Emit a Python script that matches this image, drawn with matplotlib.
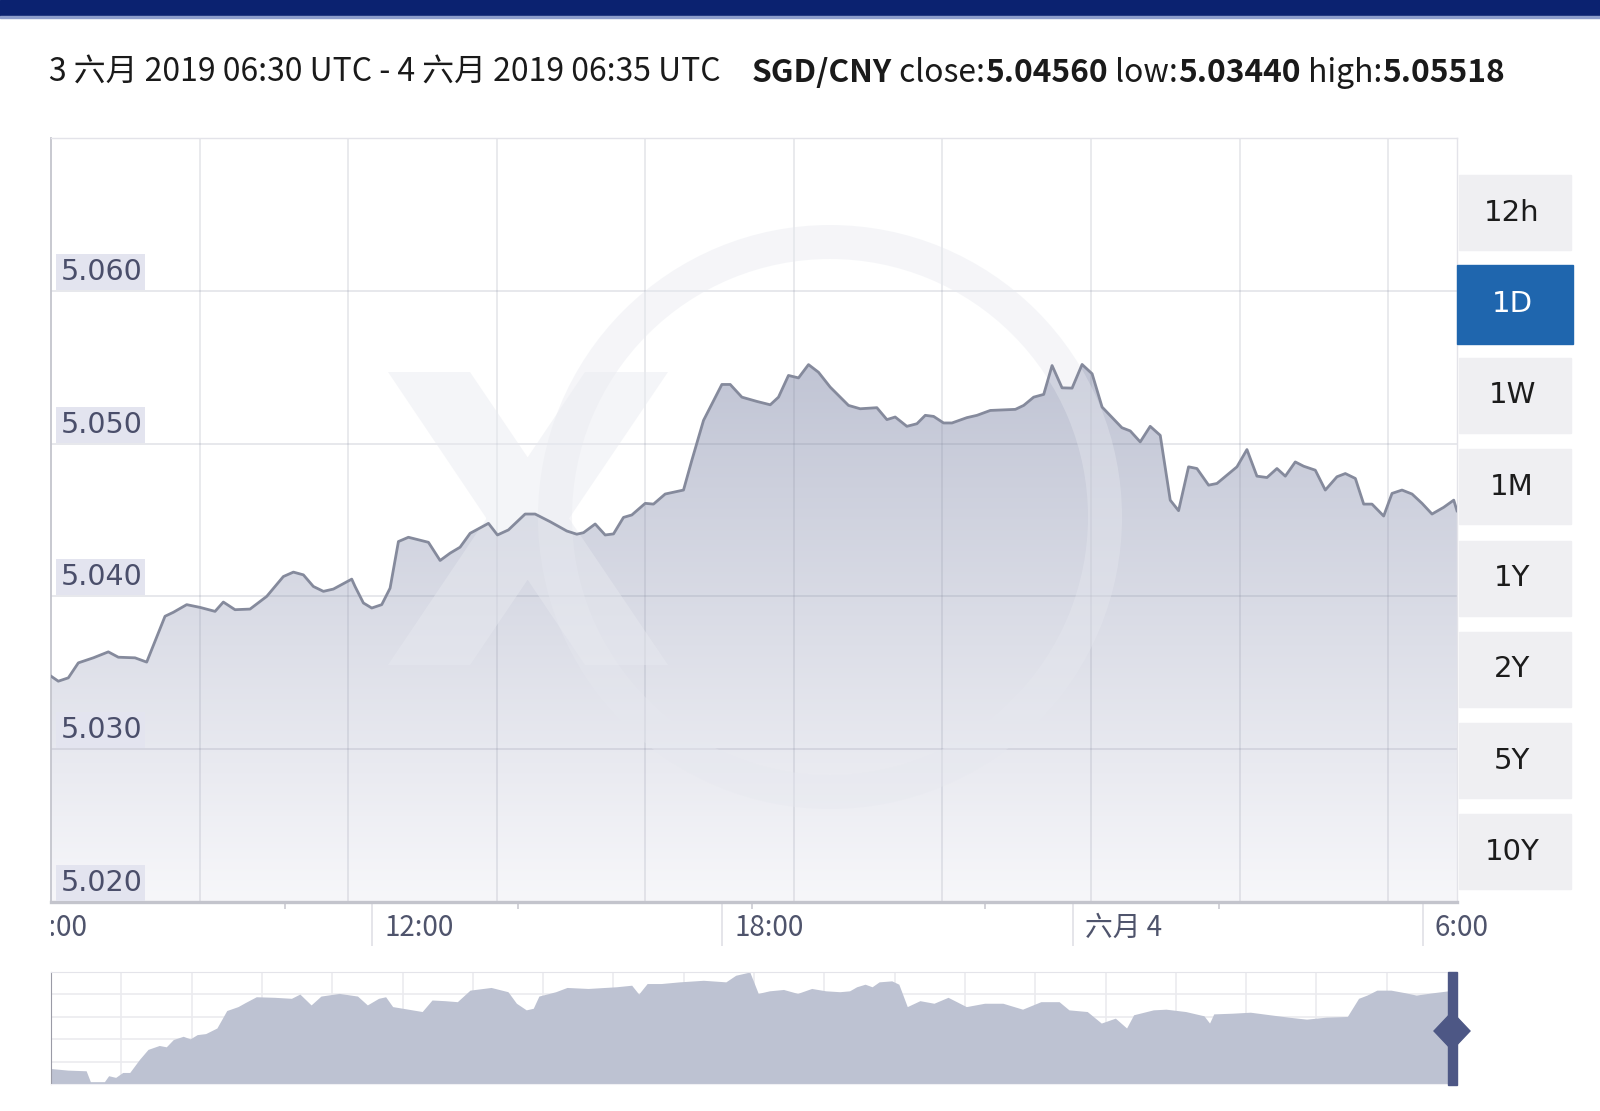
import numpy as np
import matplotlib
matplotlib.use('Agg')
import matplotlib.pyplot as plt
from matplotlib import transforms, font_manager
from matplotlib.patches import Rectangle, Polygon, Wedge, PathPatch
from matplotlib.path import Path
from matplotlib.transforms import IdentityTransform

# ---- data (SGD/CNY, 3 June 2019 06:30 UTC -> 4 June 06:35 UTC) ----
# hours since 06:30 UTC on 3 June
hours = [0.000, 0.125, 0.297, 0.468, 0.725, 0.982, 1.153, 1.439, 1.639, 1.953,
         2.096, 2.324, 2.553, 2.810, 2.952, 3.152, 3.409, 3.695, 3.980, 4.152,
         4.323, 4.494, 4.666, 4.837, 5.151, 5.208, 5.351, 5.494, 5.665, 5.808,
         5.951, 6.122, 6.465, 6.665, 6.836, 7.007, 7.179, 7.493, 7.647, 7.835,
         8.121, 8.292, 8.549, 8.835, 9.006, 9.121, 9.321, 9.492, 9.635, 9.806,
         9.949, 10.178, 10.320, 10.520, 10.834, 10.977, 11.177, 11.491, 11.634, 11.834,
         12.091, 12.320, 12.461, 12.632, 12.804, 12.975, 13.146, 13.346, 13.660, 13.860,
         14.146, 14.318, 14.460, 14.660, 14.832, 14.975, 15.118, 15.289, 15.432, 15.689,
         15.861, 16.089, 16.518, 16.661, 16.832, 17.004, 17.147, 17.318, 17.490, 17.661,
         17.833, 18.004, 18.343, 18.486, 18.657, 18.828, 19.000, 19.171, 19.314, 19.485,
         19.628, 19.828, 19.971, 20.314, 20.485, 20.656, 20.828, 20.999, 21.142, 21.313,
         21.456, 21.656, 21.827, 22.027, 22.170, 22.342, 22.485, 22.627, 22.827, 22.970,
         23.141, 23.313, 23.484, 23.655, 23.855, 24.027, 24.083]
rates = [5.03478, 5.03445, 5.03467, 5.03565, 5.03598, 5.03637, 5.03602, 5.03598, 5.03570, 5.03870,
         5.03896, 5.03946, 5.03928, 5.03902, 5.03963, 5.03913, 5.03917, 5.04000, 5.04130, 5.04159,
         5.04141, 5.04065, 5.04033, 5.04048, 5.04113, 5.04065, 5.03957, 5.03924, 5.03946, 5.04054,
         5.04359, 5.04387, 5.04354, 5.04235, 5.04283, 5.04322, 5.04413, 5.04478, 5.04402, 5.04435,
         5.04539, 5.04539, 5.04489, 5.04428, 5.04407, 5.04417, 5.04474, 5.04402, 5.04409, 5.04517,
         5.04533, 5.04609, 5.04604, 5.04670, 5.04696, 5.04891, 5.05152, 5.05387, 5.05387, 5.05304,
         5.05276, 5.05254, 5.05304, 5.05446, 5.05430, 5.05517, 5.05467, 5.05370, 5.05250, 5.05228,
         5.05235, 5.05157, 5.05174, 5.05113, 5.05130, 5.05185, 5.05178, 5.05135, 5.05135, 5.05170,
         5.05185, 5.05217, 5.05224, 5.05250, 5.05304, 5.05322, 5.05511, 5.05365, 5.05363, 5.05518,
         5.05457, 5.05239, 5.05104, 5.05083, 5.05011, 5.05113, 5.05054, 5.04630, 5.04561, 5.04848,
         5.04837, 5.04728, 5.04739, 5.04848, 5.04961, 5.04787, 5.04778, 5.04837, 5.04787, 5.04880,
         5.04852, 5.04826, 5.04696, 5.04783, 5.04804, 5.04772, 5.04604, 5.04604, 5.04526, 5.04674,
         5.04696, 5.04670, 5.04609, 5.04539, 5.04583, 5.04630, 5.04560]

# navigator (long history), position along range 0..1 and level 0..1 of navigator height
nav_t = [0.000, 0.012, 0.025, 0.028, 0.038, 0.041, 0.046, 0.051, 0.056, 0.063,
         0.069, 0.077, 0.082, 0.087, 0.094, 0.099, 0.104, 0.110, 0.118, 0.125,
         0.133, 0.138, 0.146, 0.159, 0.171, 0.177, 0.185, 0.192, 0.205, 0.218,
         0.225, 0.233, 0.238, 0.243, 0.254, 0.264, 0.271, 0.280, 0.289, 0.298,
         0.313, 0.325, 0.331, 0.338, 0.343, 0.347, 0.359, 0.367, 0.382, 0.402,
         0.413, 0.418, 0.424, 0.434, 0.447, 0.464, 0.480, 0.487, 0.497, 0.503,
         0.511, 0.521, 0.531, 0.541, 0.551, 0.561, 0.568, 0.573, 0.579, 0.584,
         0.589, 0.598, 0.603, 0.609, 0.618, 0.628, 0.638, 0.651, 0.664, 0.677,
         0.691, 0.704, 0.717, 0.724, 0.737, 0.747, 0.757, 0.765, 0.770, 0.784,
         0.793, 0.807, 0.820, 0.824, 0.827, 0.840, 0.853, 0.867, 0.880, 0.893,
         0.907, 0.922, 0.930, 0.936, 0.943, 0.953, 0.963, 0.971, 0.983, 0.994, 1.000]
nav_level = [0.138, 0.124, 0.118, 0.021, 0.021, 0.074, 0.059, 0.103, 0.103, 0.221,
             0.309, 0.344, 0.332, 0.397, 0.426, 0.403, 0.441, 0.450, 0.500, 0.656,
             0.691, 0.726, 0.779, 0.774, 0.765, 0.803, 0.706, 0.785, 0.809, 0.785,
             0.706, 0.765, 0.779, 0.691, 0.668, 0.647, 0.750, 0.744, 0.735, 0.838,
             0.862, 0.824, 0.721, 0.662, 0.676, 0.785, 0.824, 0.862, 0.853, 0.868,
             0.882, 0.803, 0.897, 0.897, 0.912, 0.926, 0.912, 0.971, 1.000, 0.809,
             0.832, 0.844, 0.809, 0.853, 0.832, 0.824, 0.832, 0.868, 0.891, 0.868,
             0.912, 0.921, 0.891, 0.691, 0.744, 0.721, 0.774, 0.691, 0.721, 0.721,
             0.668, 0.735, 0.735, 0.662, 0.647, 0.544, 0.588, 0.500, 0.618, 0.662,
             0.668, 0.647, 0.609, 0.544, 0.626, 0.632, 0.641, 0.618, 0.597, 0.579,
             0.597, 0.603, 0.765, 0.794, 0.838, 0.838, 0.815, 0.794, 0.815, 0.832, 0.832]

ytick_vals = [5.020, 5.030, 5.040, 5.050, 5.060]
ytick_labels = ['5.020', '5.030', '5.040', '5.050', '5.060']
xtick_hours = [-0.5, 5.5, 11.5, 17.5, 23.5]
xtick_labels = ['6:00', '12:00', '18:00', '六月 4', '6:00']
buttons = ['12h', '1D', '1W', '1M', '1Y', '2Y', '5Y', '10Y']
active = '1D'

header_left = '3 六月 2019 06:30 UTC - 4 六月 2019 06:35 UTC'
header_right = [('SGD/CNY', 'bold'), (' close:', 'normal'), ('5.04560', 'bold'),
                (' low:', 'normal'), ('5.03440', 'bold'), (' high:', 'normal'),
                ('5.05518', 'bold')]

W, H = 1600, 1111
fig = plt.figure(figsize=(W / 100, H / 100), dpi=100, facecolor='white')
ID = IdentityTransform()


def fx(px):
    return px / W


def fy(py):
    return 1 - py / H


CJK = ['Noto Sans CJK SC', 'DejaVu Sans']
names = {f.name for f in font_manager.fontManager.ttflist}
NARROW = 'Liberation Sans Narrow' in names
TICKFONT = ['Liberation Sans Narrow', 'Noto Sans CJK SC'] if NARROW else CJK

# ---- top bar ----
fig.add_artist(Rectangle((0, H - 16), W, 16, transform=ID, color='#0b2270', zorder=5))
fig.add_artist(Rectangle((0, H - 18), W, 2, transform=ID, color='#8d9dcb', zorder=5))

# ---- main chart ----
x0, x1 = 0, 24.083
ax = fig.add_axes([fx(51), fy(902), fx(1457) - fx(51), fy(138) - fy(902)])
ax.set_facecolor('white')

poly = ax.fill_between(hours, rates, 5.020, color='none', lw=0)
grad = np.linspace(0, 1, 256)[:, None, None]
top_c = np.array([192, 196, 212]) / 255
bot_c = np.array([247, 247, 250]) / 255
img = top_c + (bot_c - top_c) * grad
im = ax.imshow(img, extent=[x0, x1, 5.020, 5.0555], origin='upper',
               aspect='auto', zorder=1, interpolation='bilinear')
im.set_clip_path(poly.get_paths()[0], transform=ax.transData)

ax.set_xlim(x0, x1)
ax.set_ylim(5.020, 5.070)

# grid
for v in ytick_vals[1:]:
    ax.axhline(v, color=(0.5, 0.52, 0.6), alpha=0.22, lw=1.2, zorder=2)
grid_step = 2.545
for k in range(1, 10):
    ax.axvline(k * grid_step, color=(0.5, 0.52, 0.6), alpha=0.2, lw=1.2, zorder=2)

ax.plot(hours, rates, color='#858a9c', lw=2.0, zorder=4, solid_joinstyle='round')

# watermark "xe"
ring = Wedge((830, H - 517), 292, 0, 360, width=34, transform=ID,
             facecolor='#e6e8ef', edgecolor='none', alpha=0.4, zorder=3)
ax.add_patch(ring)
xs = [(388, 372), (470, 372), (668, 665), (585, 665), (388, 372),
      (585, 372), (668, 372), (470, 665), (388, 665), (585, 372)]
codes = [Path.MOVETO, Path.LINETO, Path.LINETO, Path.LINETO, Path.CLOSEPOLY] * 2
xpath = Path([(a, H - b) for a, b in xs], codes)
ax.add_patch(PathPatch(xpath, transform=ID, facecolor='#e8eaf0', edgecolor='none',
                       alpha=0.45, zorder=3))

# spines
for s in ['top', 'right']:
    ax.spines[s].set_color('#e3e3e9')
    ax.spines[s].set_linewidth(1.0)
ax.spines['left'].set_color('#c4c5cd')
ax.spines['left'].set_linewidth(1.3)
ax.spines['bottom'].set_color('#c3c4cc')
ax.spines['bottom'].set_linewidth(2.4)

ax.set_yticks([])
ax.set_xticks(xtick_hours[1:])
ax.set_xticks([4, 8, 12, 16, 20], minor=True)
ax.tick_params(axis='x', which='major', length=32, width=1.1, color='#dedee4',
               direction='out', labelbottom=False)
ax.tick_params(axis='x', which='minor', length=5, width=1.1, color='#c6c6ce',
               direction='out')

# y labels in boxes
for v, lab in zip(ytick_vals, ytick_labels):
    ypix = ax.transData.transform((0, v))[1]
    ax.add_patch(Rectangle((56, ypix + 1), 89, 36, transform=ID, facecolor='#e3e4ef',
                           edgecolor='none', zorder=6, clip_on=False))
    ax.text(61, ypix + 19, lab, transform=ID, fontsize=20.5, color='#4a4e6a',
            ha='left', va='center', zorder=7, family='DejaVu Sans')

# x labels (clipped at the left edge of plot)
tick_ax = fig.add_axes([fx(51), fy(952), fx(1600) - fx(51), fy(903) - fy(952)])
tick_ax.axis('off')
tr = transforms.blended_transform_factory(ax.transData, tick_ax.transAxes) + \
    transforms.ScaledTranslation(12 / 100, 0, fig.dpi_scale_trans)
for h, lab in zip(xtick_hours, xtick_labels):
    t = tick_ax.text(h, 0.5, lab, transform=tr, fontsize=24 if NARROW else 20,
                     color='#4f546c', ha='left', va='center', family=TICKFONT)
    t.set_clip_on(True)
    t.set_clip_box(tick_ax.bbox)

# ---- range buttons ----
for i, lab in enumerate(buttons):
    cy = 212.8 + 91.3 * i
    if lab == active:
        fig.add_artist(Rectangle((1457, H - (cy + 39.5)), 116, 79, transform=ID,
                                 color='#1f66ae', zorder=5))
        col = 'white'
    else:
        fig.add_artist(Rectangle((1459, H - (cy + 37.5)), 112, 75, transform=ID,
                                 color='#efeff2', zorder=5))
        col = '#1c1c1c'
    fig.text(1512, H - cy, lab, transform=ID, fontsize=21, color=col,
             ha='center', va='center', zorder=6, family='DejaVu Sans')

# ---- navigator ----
nav = fig.add_axes([fx(51), fy(1084), fx(1457) - fx(51), fy(972) - fy(1084)])
nav.set_xlim(0, 1)
nav.set_ylim(0, 1)
for v in [0.2, 0.4, 0.6, 0.8]:
    nav.axhline(v, color='#ebebef', lw=1.2, zorder=0)
for k in range(1, 20):
    nav.axvline(k / 20, color='#ebebef', lw=1.2, zorder=0)
nav.fill_between(nav_t, nav_level, 0, color='#bdc2d2', lw=0, zorder=1)
nav.set_xticks([])
nav.set_yticks([])
nav.spines['left'].set_color('#9a9ba6')
nav.spines['top'].set_color('#e4e4ea')
nav.spines['bottom'].set_color('#f0f0f4')
nav.spines['right'].set_visible(False)

# handle at right end
fig.add_artist(Rectangle((1448, H - 1085), 9, 113, transform=ID, color='#4d5785', zorder=6))
fig.add_artist(Polygon([(1434, H - 1031), (1452, H - 1012), (1470, H - 1031),
                        (1452, H - 1050)], closed=True, transform=ID,
                       color='#4d5785', zorder=6))

# ---- header text ----
renderer = fig.canvas.get_renderer()


def place_runs(runs, x_start, baseline, target_w, size):
    arts = []
    for s, w in runs:
        arts.append(fig.text(0, baseline, s, transform=ID, fontsize=size,
                             fontweight=w, color='#1a1a1a', family=CJK,
                             ha='left', va='baseline'))
    widths = [a.get_window_extent(renderer).width for a in arts]
    scale = target_w / sum(widths)
    x = x_start
    for a, wd in zip(arts, widths):
        a.set_fontsize(size * scale)
        a.set_x(x)
        x += wd * scale


place_runs([(header_left, 'normal')], 49, H - 82, 670, 24)
place_runs(header_right, 752, H - 82, 753, 24)

fig.savefig('out.png', dpi=100, facecolor='white')
